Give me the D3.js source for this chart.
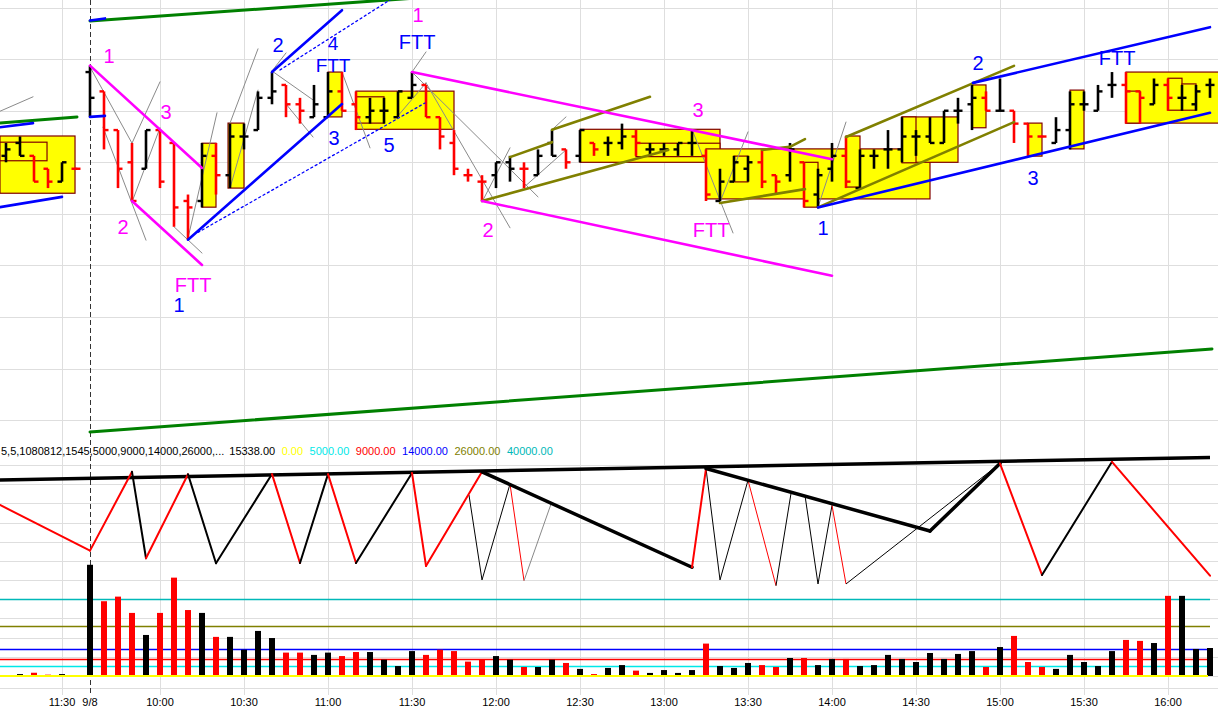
<!DOCTYPE html>
<html><head><meta charset="utf-8">
<script src="https://cdn.jsdelivr.net/npm/d3@7"></script>
<style>
html,body{margin:0;padding:0;background:#fff;overflow:hidden;}
svg{display:block;font-family:"Liberation Sans",Arial,sans-serif;}
</style></head><body>
<svg id="chart" width="1218" height="708"></svg>
<script>
// ---------- DATA ----------
// bar index 0..5 = previous session, 6..86 = 9/8 session (5-minute bars)
const opens = [1100.125,1100.375,1100.125,1099.875,1099.625,1099.875,
 1101.75,1101.375,1100.625,1100.0,1099.875,1100.625,1100.375,1099.25,1099.25,1100.125,
 1099.75,1100.5,1100.625,1101.25,1101.5,1101.125,1100.875,1100.875,1101.375,1101.125,
 1100.875,1101.0,1100.875,1101.25,1101.5,1100.875,1100.375,1099.75,1099.625,1099.75,
 1100.0,1099.875,1099.75,1100.375,1100.25,1100.125,1100.375,1100.375,1100.375,1100.5,
 1100.25,1100.25,1100.25,1100.375,1100.125,1099.25,1099.625,1099.875,1100.0,1099.75,
 1099.75,1100.0,1099.375,1099.875,1100.125,1099.5,1100.125,1100.25,1100.25,1100.5,
 1100.5,1100.375,1101.0,1101.125,1101.25,1101.0,1101.0,1100.75,1100.5,1100.375,
 1100.625,1101.125,1101.0,1101.5,1101.5,1101.375,1101.125,1101.5,1101.25,1101.125,1101.5];
const highs = [1100.375,1100.5,1100.125,1099.875,1100.0,1099.875,
 1101.875,1101.375,1100.625,1100.375,1100.625,1100.625,1100.375,1099.375,1100.375,1100.375,
 1100.75,1100.75,1101.375,1101.75,1101.5,1101.25,1101.5,1101.75,1101.75,1101.375,
 1101.25,1101.25,1101.375,1101.75,1101.5,1100.875,1100.625,1099.875,1099.75,1100.0,
 1100.125,1100.0,1100.25,1100.625,1100.25,1100.625,1100.375,1100.5,1100.75,1100.625,
 1100.375,1100.375,1100.375,1100.625,1100.25,1099.875,1100.125,1100.125,1100.25,1099.75,
 1100.375,1100.0,1099.875,1100.375,1100.5,1100.25,1100.25,1100.625,1100.875,1100.625,
 1100.875,1101.0,1101.25,1101.5,1101.375,1101.625,1101.0,1100.75,1100.5,1100.875,
 1101.375,1101.375,1101.5,1101.75,1101.75,1101.375,1101.625,1101.625,1101.5,1101.5,1101.625];
const lows = [1100.0,1100.125,1099.625,1099.5,1099.625,1099.875,
 1100.875,1100.25,1099.5,1099.25,1099.875,1099.5,1098.75,1098.5,1099.125,1099.375,
 1099.5,1100.25,1100.625,1101.125,1100.875,1100.75,1100.875,1100.875,1101.0,1100.625,
 1100.75,1100.75,1100.875,1101.25,1100.875,1100.25,1099.75,1099.625,1099.25,1099.5,
 1099.625,1099.5,1099.75,1100.125,1099.875,1100.0,1100.125,1100.125,1100.25,1100.125,
 1100.125,1100.125,1100.125,1100.125,1099.25,1099.25,1099.625,1099.625,1099.5,1099.375,
 1099.625,1099.125,1099.125,1099.625,1099.5,1099.5,1099.875,1099.875,1100.0,1100.125,
 1100.375,1100.375,1100.75,1100.625,1101.0,1101.0,1100.375,1100.125,1100.5,1100.375,
 1100.25,1101.0,1101.0,1101.25,1100.75,1100.75,1101.125,1101.0,1101.0,1101.0,1101.25];
const closes = [1100.25,1100.125,1099.625,1099.625,1100.0,1099.875,
 1101.25,1100.625,1099.875,1099.25,1100.625,1099.625,1099.125,1099.125,1100.125,1099.75,
 1100.5,1100.5,1101.25,1101.375,1101.125,1101.0,1101.125,1101.375,1101.0,1100.875,
 1101.0,1101.0,1101.375,1101.5,1100.875,1100.5,1099.875,1099.75,1099.625,1100.0,
 1099.875,1099.875,1100.125,1100.125,1100.0,1100.625,1100.25,1100.375,1100.5,1100.375,
 1100.25,1100.25,1100.375,1100.375,1099.375,1099.625,1100.0,1100.0,1099.625,1099.625,
 1100.25,1099.25,1099.75,1100.125,1099.625,1100.125,1100.125,1100.25,1100.5,1100.5,
 1100.375,1101.0,1101.0,1101.25,1101.0,1101.0,1100.75,1100.5,1100.5,1100.625,
 1101.125,1101.125,1101.375,1101.5,1101.375,1101.25,1101.5,1101.25,1101.25,1101.375,1101.5];
// B = up bar (black), R = down bar (red)
const barDir = ("BBRRBR" + "BRRRBRRRBR" + "BBBBRRBBRR" + "BBBBRRRRRB" + "BRBBRBRBBR" +
  "BBBBRBBBRR" + "BRBBRBBBBB" + "BBBBRBRRRB" + "BBBBRRBRBBB").split("");
const volumes = [500,1000,1700,700,1000,300,
 58000,39000,41400,32900,21400,32900,51300,34400,32900,20400,
 20400,13700,23500,19800,12200,12200,11000,12200,10400,12500,
 12500,8500,5200,13000,11000,13700,13000,7500,8700,10400,
 8500,4700,4700,8500,6800,3700,1000,4200,5700,2800,
 1600,3100,1600,3100,16900,5200,4200,6800,5700,4700,
 9400,9400,5700,8900,8900,5200,5700,11000,8900,7300,
 12000,8900,11500,13000,4700,15100,20900,7300,4700,3700,
 11000,7300,5200,13000,18800,18300,17200,41800,41800,14100,14600];

const tickIndex  = [4, 6, 11, 17, 23, 29, 35, 41, 47, 53, 59, 65, 71, 77, 83];
const tickLabels = ["11:30","9/8","10:00","10:30","11:00","11:30","12:00","12:30","13:00","13:30","14:00","14:30","15:00","15:30","16:00"];
const priceGrid = [1095,1096,1097,1098,1099,1100,1101,1102,1103];
const volGrid = [0,10000,20000,30000,40000,50000,60000,70000,80000,90000,100000,110000];

const refLevels = [40000, 26000, 14000, 9000, 5000, 0];
const refColors = ["#00b8b8","#808000","#0000ff","#ff0000","#00e8e8","#ffff00"];
const legendTexts = ["5,5,1080812,1545,5000,9000,14000,26000,...","15338.00","0.00","5000.00","9000.00","14000.00","26000.00","40000.00"];
const legendColors = ["#000","#000","#ffff00","#00e8e8","#ff0000","#0000ff","#808000","#00b8b8"];

// wave (weis-style) pivots: [index, value, colour of leg into the point, width]
const waveMain = [[-0.43,89200,null,2],[6,65400,"red",2],[9,106500,"red",2],[10,61400,"black",2],[13,105200,"red",2],
 [15,58800,"black",2],[19,105300,"black",2],[21,58900,"red",2],[23,105300,"black",2],[25,58900,"red",2],
 [29,105900,"black",2],[30,57400,"red",2],[34,106500,"red",2],[49,56700,"black",3.5],[50,108200,"red",2],
 [66,75600,"black",3.5],[71,110800,"black",3.5],[74,52700,"red",2],[79,111700,"black",2],[86,52300,"red",2]];
const waveThin = [[33.07,94400,34,50100,"black"],[34,50100,36,100100,"black"],[36,100100,37,49700,"red"],
 [37,49700,38.93,89700,"gray"],[50,108200,51,50100,"black"],[51,50100,53,102100,"black"],
 [53,102100,55,47100,"red"],[55,47100,56.07,95100,"black"],[57.07,94200,58,48000,"black"],
 [58,48000,59,89000,"black"],[59,89000,60,48000,"red"],[60,48000,71,110800,"black"]];
const waveTop = [[-0.43,102200],[86,114000]];

// annotation lines: [i1, p1, i2, p2]
const greenLines = [[6,1102.74,40,1103.39],[6,1094.77,86.14,1096.38],[-0.43,1100.76,5.07,1100.88]];
const magentaLines = [[6,1101.875,14,1099.89],[9,1099.25,14,1098.01],[29,1101.75,59,1100.06],[34,1099.25,59,1097.80]];
const blueLines = [[13,1098.5,24,1101.13],[19,1101.75,24,1102.95],[58,1099.125,86,1100.96],[69.07,1101.54,86,1102.62],
 [-0.43,1100.68,1.93,1100.76],[-0.43,1099.13,4,1099.33],[6,1102.75,7.07,1102.79],[6,1100.88,7.07,1100.90]];
const blueDotted = [[13.71,1098.64,29.93,1101.15],[19.57,1101.79,27.43,1103.15]];
const oliveLines = [[36,1100.10,39,1100.39],[39,1100.63,46,1101.27],[34,1099.25,47.3,1100.24],[51,1099.21,57.07,1099.48],
 [54,1100.24,56,1100.30],[56,1100.30,57.07,1100.45],[60,1100.49,72,1101.87],[58,1099.125,72,1100.78]];
const grayLines = [[-0.43,1100.99,1.93,1101.27],[6,1101.85,9,1100.37],[6.93,1100.68,10,1098.49],[9,1100.37,11,1101.56],
 [9,1099.23,11,1100.67],[12,1098.75,14,1098.24],[13,1098.53,15.07,1100.96],[16,1100.76,18,1102.20],
 [16,1099.50,18,1101.40],[19,1101.77,20,1102.12],[19,1101.77,21.93,1101.21],[20,1101.13,21.93,1100.49],
 [24,1101.75,26,1100.28],[29,1101.75,30,1102.14],[29,1101.75,38,1099.33],[30,1101.54,36,1098.73],
 [27.93,1100.88,30,1101.54],[34,1099.23,36,1100.28],[39,1100.63,40,1100.88],[36.93,1099.50,40,1100.24],
 [49.07,1100.59,51.93,1098.63],[51,1099.23,53,1100.59],[58,1099.13,60,1100.78]];
// range boxes: [iStart, iEnd, top price, bottom price]
const boxes = [[-0.43,4.93,1100.51,1099.40],[-0.43,2.93,1100.39,1100.03],[14,15,1100.37,1099.13],[15.86,17,1100.76,1099.50],
 [23,24,1101.75,1100.88],[25,32,1101.38,1100.64],[25,27,1101.27,1100.76],[41,51,1100.64,1100.0],[45,51,1100.37,1100.11],
 [50,66,1100.26,1099.29],[52,53,1100.12,1099.62],[57,58,1100.0,1099.13],[60,61,1100.51,1099.52],
 [64,68,1100.88,1100.0],[64,65,1100.88,1099.99],[69,70,1101.50,1100.67],[73,74,1100.76,1100.12],[76,77,1101.40,1100.26],
 [80,87.5,1101.75,1100.76],[80,81,1101.38,1100.76],[83,84,1101.63,1101.01],[84,85,1101.52,1101.01]];
// wave-count labels: [text, colour, index, price, font size]
const labels = [["1","#ff00ff",7.36,1101.93,20],["3","#ff00ff",11.43,1100.84,20],["2","#ff00ff",8.36,1098.61,20],
 ["FTT","#ff00ff",13.36,1097.49,20],["1","#0000ff",12.36,1097.10,20],["2","#0000ff",19.43,1102.14,20],
 ["4","#0000ff",23.36,1102.17,19],["FTT","#0000ff",23.36,1101.75,19],["3","#0000ff",23.43,1100.34,20],
 ["1","#ff00ff",29.43,1102.72,20],["FTT","#0000ff",29.36,1102.20,20],["5","#0000ff",27.36,1100.20,20],
 ["2","#ff00ff",34.43,1098.55,20],["3","#ff00ff",49.43,1100.88,20],["FTT","#ff00ff",50.36,1098.55,20],
 ["1","#0000ff",58.36,1098.59,20],["2","#0000ff",69.43,1101.79,20],["FTT","#0000ff",79.36,1101.89,20],["3","#0000ff",73.36,1099.56,20]];

// ---------- SCALES ----------
const W = 1218, H = 708;
const X  = d3.scaleLinear().domain([0, 86]).range([6, 1210]);
const Y  = d3.scaleLinear().domain([1095, 1103]).range([420.15, 7.59]);
const YV = d3.scaleLinear().domain([0, 40000]).range([676, 599.3]);
const axisY = 688;

const svg = d3.select("#chart");
svg.append("rect").attr("width", W).attr("height", H).attr("fill", "#fff");
const defs = svg.append("defs");
defs.append("clipPath").attr("id","pclip").append("rect").attr("x",0).attr("y",0).attr("width",W).attr("height",441);
defs.append("clipPath").attr("id","lclip").append("rect").attr("x",0).attr("y",441).attr("width",W).attr("height",axisY-441);

// ---------- GRID ----------
const grid = svg.append("g").attr("stroke", "#dedede").attr("stroke-width", 1).attr("shape-rendering","crispEdges");
grid.selectAll(".hp").data(priceGrid).join("line")
  .attr("x1",0).attr("x2",W).attr("y1",d=>Math.round(Y(d))+0.5).attr("y2",d=>Math.round(Y(d))+0.5);
grid.selectAll(".hv").data(volGrid).join("line")
  .attr("x1",0).attr("x2",W).attr("y1",d=>Math.round(YV(d))+0.5).attr("y2",d=>Math.round(YV(d))+0.5);
grid.selectAll(".vv").data(tickIndex.filter((d,k)=>tickLabels[k]!=="9/8")).join("line")
  .attr("x1",d=>X(d)+0.5).attr("x2",d=>X(d)+0.5).attr("y1",0).attr("y2",axisY+7);
grid.append("line").attr("x1",0).attr("x2",W).attr("y1",axisY+0.5).attr("y2",axisY+0.5);
// day separator
svg.append("line").attr("x1",X(6)+0.5).attr("x2",X(6)+0.5).attr("y1",0).attr("y2",axisY+7)
  .attr("stroke","#333").attr("stroke-width",1).attr("stroke-dasharray","5,3");

// ---------- PRICE PANE ----------
const pp = svg.append("g").attr("clip-path","url(#pclip)");
const lineSeg = (g, data, color, width, dash) => g.append("g").selectAll("line").data(data).join("line")
  .attr("x1",d=>X(d[0])).attr("y1",d=>Y(d[1])).attr("x2",d=>X(d[2])).attr("y2",d=>Y(d[3]))
  .attr("stroke",color).attr("stroke-width",width).attr("stroke-dasharray",dash||null).attr("stroke-linecap","round");

pp.append("g").selectAll("rect").data(boxes).join("rect")
  .attr("x",d=>X(d[0])).attr("y",d=>Y(d[2])).attr("width",d=>X(d[1])-X(d[0])).attr("height",d=>Y(d[3])-Y(d[2]))
  .attr("fill","#ffff00").attr("stroke","#800000").attr("stroke-width",1.2);

lineSeg(pp, grayLines, "#8a8a8a", 1);
lineSeg(pp, greenLines, "#008000", 3);

const bars = d3.range(opens.length).map(i => ({i, o:opens[i], h:highs[i], l:lows[i], c:closes[i],
  col: barDir[i]==="B" ? "#000000" : "#ff0000"}));
const bg = pp.append("g");
bg.selectAll(".bar").data(bars).join("line")
  .attr("x1",d=>X(d.i)).attr("x2",d=>X(d.i))
  .attr("y1",d=>Y(d.h)-(d.h===d.l?1:0)).attr("y2",d=>Y(d.l)+(d.h===d.l?1:0))
  .attr("stroke",d=>d.col).attr("stroke-width",2.6);
bg.selectAll(".op").data(bars).join("line")
  .attr("x1",d=>X(d.i)-4.5).attr("x2",d=>X(d.i)).attr("y1",d=>Y(d.o)).attr("y2",d=>Y(d.o))
  .attr("stroke",d=>d.col).attr("stroke-width",2.4);
bg.selectAll(".cl").data(bars).join("line")
  .attr("x1",d=>X(d.i)).attr("x2",d=>X(d.i)+4.5).attr("y1",d=>Y(d.c)).attr("y2",d=>Y(d.c))
  .attr("stroke",d=>d.col).attr("stroke-width",2.4);

lineSeg(pp, oliveLines, "#808000", 2.6);
lineSeg(pp, magentaLines, "#ff00ff", 2.6);
lineSeg(pp, blueLines, "#0000ff", 2.6);
lineSeg(pp, blueDotted, "#0000ff", 1.3, "2,3");

pp.append("g").selectAll("text").data(labels).join("text")
  .attr("x",d=>X(d[2])).attr("y",d=>Y(d[3])).attr("text-anchor","middle")
  .attr("font-size",d=>d[4]).attr("fill",d=>d[1]).text(d=>d[0]);

// ---------- LOWER PANE ----------
const lp = svg.append("g").attr("clip-path","url(#lclip)");
// legend row
const leg = lp.append("g");
let lx = 1;
legendTexts.forEach((t,k) => {
  const el = leg.append("text").attr("x",lx).attr("y",455).attr("font-size",11).attr("fill",legendColors[k]).text(t);
  lx += el.node().getComputedTextLength() + (k===0 ? 5 : 6.5);
});
// reference lines
lp.append("g").selectAll("line").data(refLevels.slice(0,5)).join("line")
  .attr("x1",0).attr("x2",X(86)).attr("y1",d=>Math.round(YV(d))+0.5).attr("y2",d=>Math.round(YV(d))+0.5)
  .attr("stroke",(d,k)=>refColors[k]).attr("stroke-width",1.3);
// volume bars
lp.append("g").selectAll("rect").data(volumes.map((v,i)=>({i,v}))).join("rect")
  .attr("x",d=>X(d.i)-3).attr("width",6).attr("y",d=>YV(d.v)).attr("height",d=>YV(0)-YV(d.v))
  .attr("fill",d=>barDir[d.i]==="B"?"#000":"#ff0000");
// zero line
lp.append("line").attr("x1",0).attr("x2",X(86)-2).attr("y1",YV(0)).attr("y2",YV(0))
  .attr("stroke",refColors[5]).attr("stroke-width",2.2);
// wave top line
lp.append("line").attr("x1",X(waveTop[0][0])).attr("y1",YV(waveTop[0][1]))
  .attr("x2",X(waveTop[1][0])).attr("y2",YV(waveTop[1][1])).attr("stroke","#000").attr("stroke-width",3.5);
// thin sub-waves
lp.append("g").selectAll("line").data(waveThin).join("line")
  .attr("x1",d=>X(d[0])).attr("y1",d=>YV(d[1])).attr("x2",d=>X(d[2])).attr("y2",d=>YV(d[3]))
  .attr("stroke",d=>d[4]==="red"?"#ff0000":(d[4]==="gray"?"#888":"#000")).attr("stroke-width",1);
// main wave legs
const legs = waveMain.slice(1).map((p,k)=>({a:waveMain[k], b:p}));
lp.append("g").selectAll("line").data(legs).join("line")
  .attr("x1",d=>X(d.a[0])).attr("y1",d=>YV(d.a[1])).attr("x2",d=>X(d.b[0])).attr("y2",d=>YV(d.b[1]))
  .attr("stroke",d=>d.b[2]==="red"?"#ff0000":"#000").attr("stroke-width",d=>d.b[3]).attr("stroke-linecap","round");

// ---------- TIME AXIS ----------
const ax = svg.append("g");
ax.selectAll("text").data(tickIndex).join("text")
  .attr("x",d=>X(d)).attr("y",706).attr("text-anchor","middle").attr("font-size",11).attr("fill","#000")
  .text((d,k)=>tickLabels[k]);
</script>
</body></html>
